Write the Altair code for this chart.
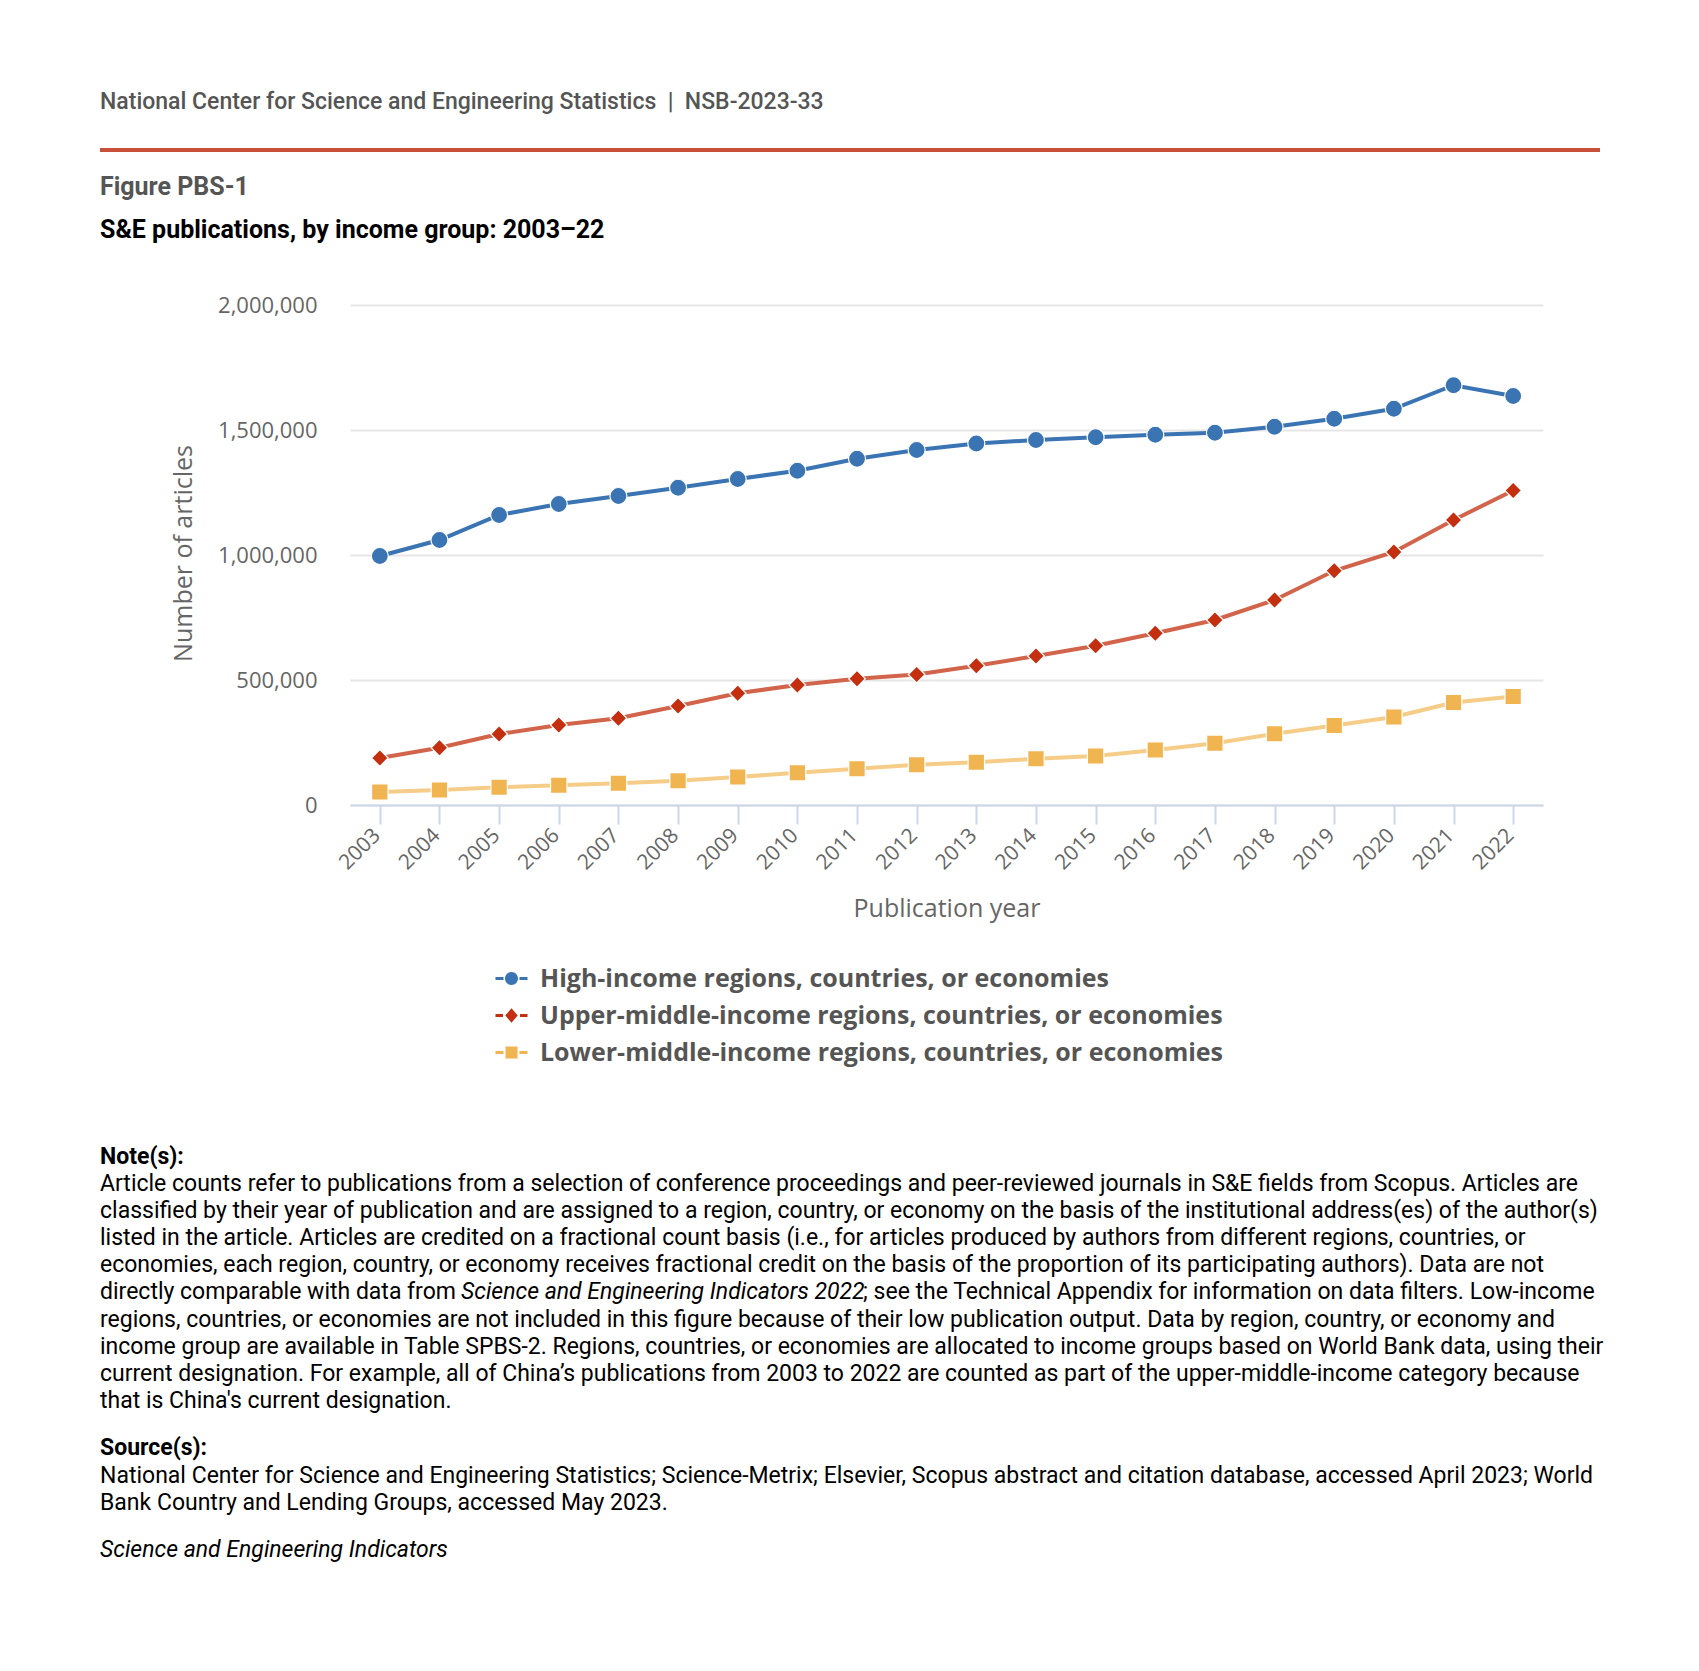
import altair as alt
import pandas as pd

years = [2003, 2004, 2005, 2006, 2007, 2008, 2009, 2010, 2011, 2012,
         2013, 2014, 2015, 2016, 2017, 2018, 2019, 2020, 2021, 2022]
series_names = [
    "High-income regions, countries, or economies",
    "Upper-middle-income regions, countries, or economies",
    "Lower-middle-income regions, countries, or economies",
]
high_income = [996000, 1060000, 1160000, 1204000, 1236000, 1269000, 1304000, 1337000, 1385000, 1420000,
               1446000, 1460000, 1471000, 1481000, 1489000, 1513000, 1545000, 1585000, 1679000, 1636000]
upper_middle = [188000, 229000, 284000, 320000, 347000, 396000, 447000, 480000, 505000, 522000,
                557000, 596000, 637000, 687000, 740000, 820000, 937000, 1012000, 1140000, 1258000]
lower_middle = [52000, 60000, 71000, 79000, 87000, 97000, 112000, 129000, 145000, 161000,
                171000, 185000, 196000, 220000, 247000, 285000, 318000, 352000, 410000, 434000]
y_ticks = [0, 500000, 1000000, 1500000, 2000000]

line_colors = ["#3a74b3", "#d2644b", "#f6cd88"]
marker_colors = ["#3a74b3", "#c42f10", "#f0b450"]
marker_shapes = ["circle", "diamond", "square"]
marker_sizes = [290, 270, 250]
legend_shapes = [
    "M-1.6,-0.15H-0.8V0.15H-1.6Z M0.8,-0.15H1.6V0.15H0.8Z M-0.65,0A0.65,0.65 0 1,0 0.65,0A0.65,0.65 0 1,0 -0.65,0Z",
    "M-1.6,-0.15H-0.85V0.15H-1.6Z M0.85,-0.15H1.6V0.15H0.85Z M0,-0.72L0.62,0L0,0.72L-0.62,0Z",
    "M-1.6,-0.15H-0.8V0.15H-1.6Z M0.8,-0.15H1.6V0.15H0.8Z M-0.6,-0.6H0.6V0.6H-0.6Z",
]

NB = "\u00a0"
header_text = "National Center for Science and Engineering Statistics" + NB * 2 + "|" + NB * 2 + "NSB-2023-33"
figure_label = "Figure PBS-1"
figure_title = "S&E publications, by income group: 2003–22"
note_head = "Note(s):"
note_lines = [
    "Article counts refer to publications from a selection of conference proceedings and peer-reviewed journals in S&E fields from Scopus. Articles are",
    "classified by their year of publication and are assigned to a region, country, or economy on the basis of the institutional address(es) of the author(s)",
    "listed in the article. Articles are credited on a fractional count basis (i.e., for articles produced by authors from different regions, countries, or",
    "economies, each region, country, or economy receives fractional credit on the basis of the proportion of its participating authors). Data are not",
    None,
    "regions, countries, or economies are not included in this figure because of their low publication output. Data by region, country, or economy and",
    "income group are available in Table SPBS-2. Regions, countries, or economies are allocated to income groups based on World Bank data, using their",
    "current designation. For example, all of China’s publications from 2003 to 2022 are counted as part of the upper-middle-income category because",
    "that is China's current designation.",
]
note_line5 = ["directly comparable with data from", "Science and Engineering Indicators 2022",
              "; see the Technical Appendix for information on data filters. Low-income"]
source_head = "Source(s):"
source_lines = [
    "National Center for Science and Engineering Statistics; Science-Metrix; Elsevier, Scopus abstract and citation database, accessed April 2023; World",
    "Bank Country and Lending Groups, accessed May 2023.",
]
footer = "Science and Engineering Indicators"

rows = []
for name, vals in zip(series_names, [high_income, upper_middle, lower_middle]):
    for yr, v in zip(years, vals):
        rows.append({"year": yr, "series": name, "value": v})
df = pd.DataFrame(rows)

W, H = 1193, 500

x_enc = alt.X("year:O", scale=alt.Scale(type="point", padding=0.5),
              axis=alt.Axis(title="Publication year", labelAngle=-45, labelAlign="right",
                            labelBaseline="middle", labelFont="Open Sans", labelFontSize=21,
                            labelColor="#666666", labelPadding=8, labelOffset=-3,
                            domainColor="#ccd6eb", domainWidth=2, tickColor="#ccd6eb",
                            tickWidth=2, tickSize=19, grid=False, titleFont="Open Sans",
                            titleFontSize=25, titleFontWeight="normal", titleColor="#666666",
                            titleY=103, titleBaseline="middle"))
y_enc = alt.Y("value:Q", scale=alt.Scale(domain=[0, 2000000]),
              axis=alt.Axis(title="Number of articles", values=y_ticks,
                            labelExpr="format(datum.value, ',')",
                            labelFont="Open Sans", labelFontSize=22, labelColor="#666666",
                            labelPadding=33, ticks=False, domain=False, gridColor="#e6e6e6",
                            gridWidth=2, titleFont="Open Sans", titleFontSize=25,
                            titleFontWeight="normal", titleColor="#666666",
                            titleX=-167, titleY=248, titleBaseline="middle", titleAngle=-90))

base = alt.Chart(df)
lines = base.mark_line(strokeWidth=4).encode(
    x=x_enc, y=y_enc,
    color=alt.Color("series:N", scale=alt.Scale(domain=series_names, range=line_colors), legend=None),
    detail="series:N",
)
points = base.mark_point(filled=True, opacity=1, stroke="white", strokeWidth=1.2).encode(
    x=x_enc, y=y_enc,
    color=alt.Color("series:N", scale=alt.Scale(domain=series_names, range=marker_colors), legend=None),
    shape=alt.Shape("series:N", scale=alt.Scale(domain=series_names, range=marker_shapes), legend=None),
    size=alt.Size("series:N", scale=alt.Scale(domain=series_names, range=marker_sizes), legend=None),
)
leg_kw = dict(title=None, orient="none", legendX=149, legendY=661, labelFont="Open Sans",
              labelFontSize=25, labelFontWeight="bold", labelColor="#555555", symbolSize=400,
              rowPadding=11, labelOffset=16, symbolStrokeWidth=0, labelLimit=900)
legend_layer = base.mark_point(filled=True, opacity=1).encode(
    x=x_enc, y=y_enc,
    color=alt.Color("series:N", scale=alt.Scale(domain=series_names, range=marker_colors),
                    legend=alt.Legend(**leg_kw)),
    shape=alt.Shape("series:N", scale=alt.Scale(domain=series_names, range=legend_shapes),
                    legend=alt.Legend(**leg_kw)),
).transform_filter("false")

one = alt.Data(values=[{"a": 1}])


def txt(s, x, y, font="Roboto", size=23, weight="normal", color="#000000", style="normal"):
    return alt.Chart(one).mark_text(text=s, align="left", baseline="middle", font=font,
                                    fontSize=size, fontWeight=weight, color=color,
                                    fontStyle=style).encode(x=alt.value(x), y=alt.value(y))


texts = [
    txt(header_text, -250, -203, weight=500, color="#555555"),
    txt(figure_label, -250, -118, size=25, weight="bold", color="#555555"),
    txt(figure_title, -250, -75, size=25, weight="bold", color="#000000"),
    txt(note_head, -250, 852, weight="bold"),
]
y0 = 879
for i, ln in enumerate(note_lines):
    yy = y0 + 27.1 * i
    if ln is None:
        texts.append(txt(note_line5[0], -250, yy))
        texts.append(txt(note_line5[1], 111, yy, style="italic"))
        texts.append(txt(note_line5[2], 513, yy))
    else:
        texts.append(txt(ln, -250, yy))
texts.append(txt(source_head, -250, 1143, weight="bold"))
for i, ln in enumerate(source_lines):
    texts.append(txt(ln, -250, 1171 + 27.1 * i))
texts.append(txt(footer, -250, 1245, style="italic"))

red_rule = alt.Chart(one).mark_rule(color="#c9503a", strokeWidth=4).encode(
    x=alt.value(-250), x2=alt.value(1250), y=alt.value(-155))

chart = alt.layer(lines, points, legend_layer, red_rule, *texts).resolve_scale(
    color="independent", shape="independent"
).properties(
    width=W, height=H,
    background="white",
    autosize=alt.AutoSizeParams(type="none"),
    padding={"left": 342, "top": 297, "right": 148, "bottom": 858},
).configure_view(strokeWidth=0, stroke=None)

chart.save("out.html", embed_options={"renderer": "svg", "actions": False})
